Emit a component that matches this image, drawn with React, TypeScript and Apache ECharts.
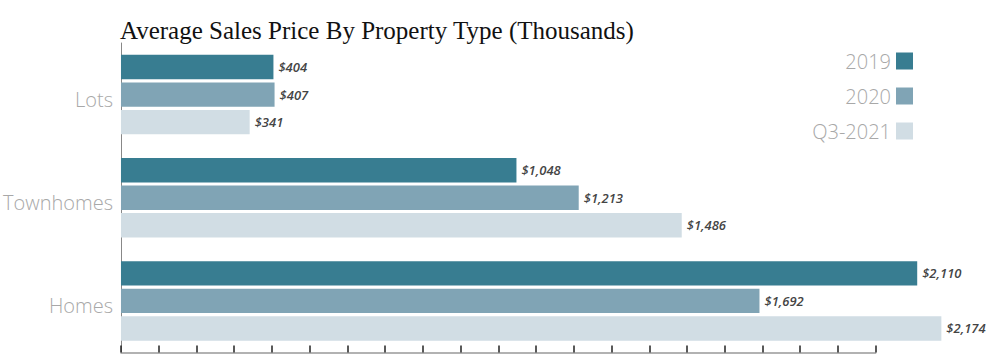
import React, { useEffect, useRef } from "react";
import * as echarts from "echarts";

const categories = ["Lots", "Townhomes", "Homes"];
const seriesNames = ["2019", "2020", "Q3-2021"];
const values2019 = [404, 1048, 2110];
const values2020 = [407, 1213, 1692];
const valuesQ3 = [341, 1486, 2174];
const seriesColors = ["#387d91", "#80a4b5", "#d1dde4"];
const titleText = "Average Sales Price By Property Type (Thousands)";

export default function App() {
  const ref = useRef<HTMLDivElement>(null);
  useEffect(() => {
    document.body.style.margin = "0";
    const chart = echarts.init(ref.current!, null, { renderer: "svg" });
    const allValues = [values2019, values2020, valuesQ3];
    chart.setOption({
      animation: false,
      backgroundColor: "#ffffff",
      title: {
        text: titleText,
        left: 115,
        top: 13,
        textStyle: {
          fontFamily: "Liberation Serif",
          fontWeight: "normal",
          fontSize: 25,
          color: "#111",
        },
      },
      legend: {
        orient: "vertical",
        right: 82,
        top: 46,
        align: "right",
        itemWidth: 17,
        itemHeight: 17,
        itemGap: 15,
        icon: "rect",
        data: seriesNames,
        textStyle: {
          fontFamily: "Open Sans",
          fontWeight: 300,
          fontSize: 20,
          color: "#a8a8a8",
        },
      },
      grid: {
        left: 120.5,
        right: 124.3,
        top: 43,
        bottom: 8.5,
        containLabel: false,
      },
      xAxis: {
        type: "value",
        min: 0,
        max: 2000,
        interval: 100,
        axisLine: { show: true, lineStyle: { color: "#999", width: 1.5 } },
        axisTick: {
          show: true,
          inside: true,
          length: 7,
          lineStyle: { color: "#222", width: 1.5 },
        },
        axisLabel: { show: false },
        splitLine: { show: false },
      },
      yAxis: {
        type: "category",
        inverse: true,
        data: categories,
        axisLine: { show: true, lineStyle: { color: "#888", width: 1 } },
        axisTick: { show: false },
        axisLabel: {
          fontFamily: "Open Sans",
          fontWeight: 300,
          fontSize: 20,
          color: "#a8a8a8",
          margin: 8,
          verticalAlign: "top",
          lineHeight: 10,
        },
      },
      series: seriesNames.map((name, i) => ({
        name,
        type: "bar",
        data: allValues[i],
        barWidth: 24.4,
        barGap: "13%",
        clip: false,
        itemStyle: { color: seriesColors[i] },
        label: {
          show: true,
          position: "right",
          distance: 5,
          fontFamily: "Open Sans",
          fontStyle: "italic",
          fontWeight: 600,
          fontSize: 13,
          color: "#444",
          formatter: (p: any) => "$" + Number(p.value).toLocaleString("en-US"),
        },
      })),
    });
    return () => chart.dispose();
  }, []);
  return <div ref={ref} style={{ width: 1000, height: 361 }} />;
}
